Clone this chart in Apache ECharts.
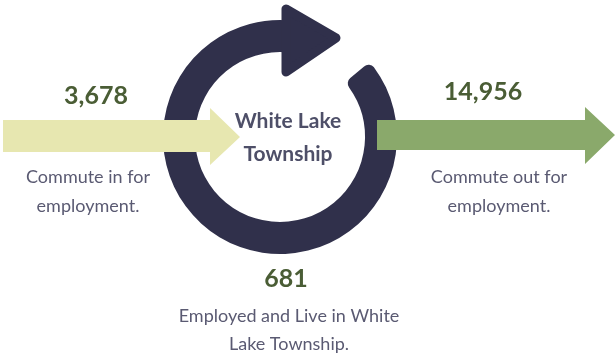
<!DOCTYPE html>
<html>
<head>
<meta charset="utf-8">
<script src="https://cdn.jsdelivr.net/npm/echarts@6/dist/echarts.min.js"></script>
<style>
html,body{margin:0;padding:0;background:#fff;}
#chart{width:616px;height:356px;}
</style>
</head>
<body>
<div id="chart"></div>
<script>
// ---- data ----
const flowNames = ["Commute in", "Commute out", "Employed and live in"];
const flowValues = [3678, 14956, 681];
const flowCaptions = ["Commute in for\nemployment.", "Commute out for\nemployment.", "Employed and Live in White\nLake Township."];
const centerLabel = "White Lake\nTownship";

// ---- styles / layout ----
const ringColor = "#30304b";
const inColor = "#e7e7b0";
const outColor = "#8aa96b";
const numColor = "#4a5d35";
const capColor = "#5a5a72";
const titleColor = "#4e4f68";
const FONT = "Lato, 'Open Sans', sans-serif";

const cx = 280, cy = 137, R = 117, r0 = 85;

const fmt = v => v.toLocaleString('en-US');

const chart = echarts.init(document.getElementById('chart'), null, {renderer: 'canvas'});

const deg = d => d * Math.PI / 180;

const graphics = [
  // ring
  {
    type: 'sector', z: 1,
    shape: {cx: cx, cy: cy, r: R, r0: r0, startAngle: deg(-40), endAngle: deg(280), clockwise: true, cornerRadius: 7},
    style: {fill: ringColor}
  },
  // ring arrowhead
  {
    type: 'polygon', z: 1,
    shape: {points: [[286, 9], [286, 72], [336, 38]]},
    style: {fill: ringColor, stroke: ringColor, lineWidth: 9, lineJoin: 'round'}
  },
  // inbound arrow
  {
    type: 'polygon', z: 2,
    shape: {points: [[3, 120], [210, 120], [210, 108], [240, 137], [210, 165], [210, 152], [3, 152]]},
    style: {fill: inColor}
  },
  // outbound arrow
  {
    type: 'polygon', z: 2,
    shape: {points: [[377, 120], [585, 120], [585, 107], [615, 135], [585, 164], [585, 150], [377, 150]]},
    style: {fill: outColor}
  },
  // numbers
  {
    type: 'text', z: 3, x: 96, y: 96,
    style: {text: fmt(flowValues[0]), fill: numColor, font: 'bold 25px ' + FONT, align: 'center', verticalAlign: 'middle'}
  },
  {
    type: 'text', z: 3, x: 483, y: 92,
    style: {text: fmt(flowValues[1]), fill: numColor, font: 'bold 25px ' + FONT, align: 'center', verticalAlign: 'middle'}
  },
  {
    type: 'text', z: 3, x: 286, y: 279,
    style: {text: fmt(flowValues[2]), fill: numColor, font: 'bold 25px ' + FONT, align: 'center', verticalAlign: 'middle'}
  },
  // captions
  {
    type: 'text', z: 3, x: 88, y: 192,
    style: {text: flowCaptions[0], fill: capColor, font: '18px ' + FONT, lineHeight: 29, align: 'center', verticalAlign: 'middle'}
  },
  {
    type: 'text', z: 3, x: 499, y: 192,
    style: {text: flowCaptions[1], fill: capColor, font: '18px ' + FONT, lineHeight: 29, align: 'center', verticalAlign: 'middle'}
  },
  {
    type: 'text', z: 3, x: 289, y: 330,
    style: {text: flowCaptions[2], fill: capColor, font: '18px ' + FONT, lineHeight: 28, align: 'center', verticalAlign: 'middle'}
  },
  // center label
  {
    type: 'text', z: 3, x: 288, y: 138,
    style: {text: centerLabel, fill: titleColor, font: 'bold 21px ' + FONT, lineHeight: 33, align: 'center', verticalAlign: 'middle'}
  }
];

chart.setOption({
  animation: false,
  backgroundColor: '#ffffff',
  graphic: graphics
});
</script>
</body>
</html>
